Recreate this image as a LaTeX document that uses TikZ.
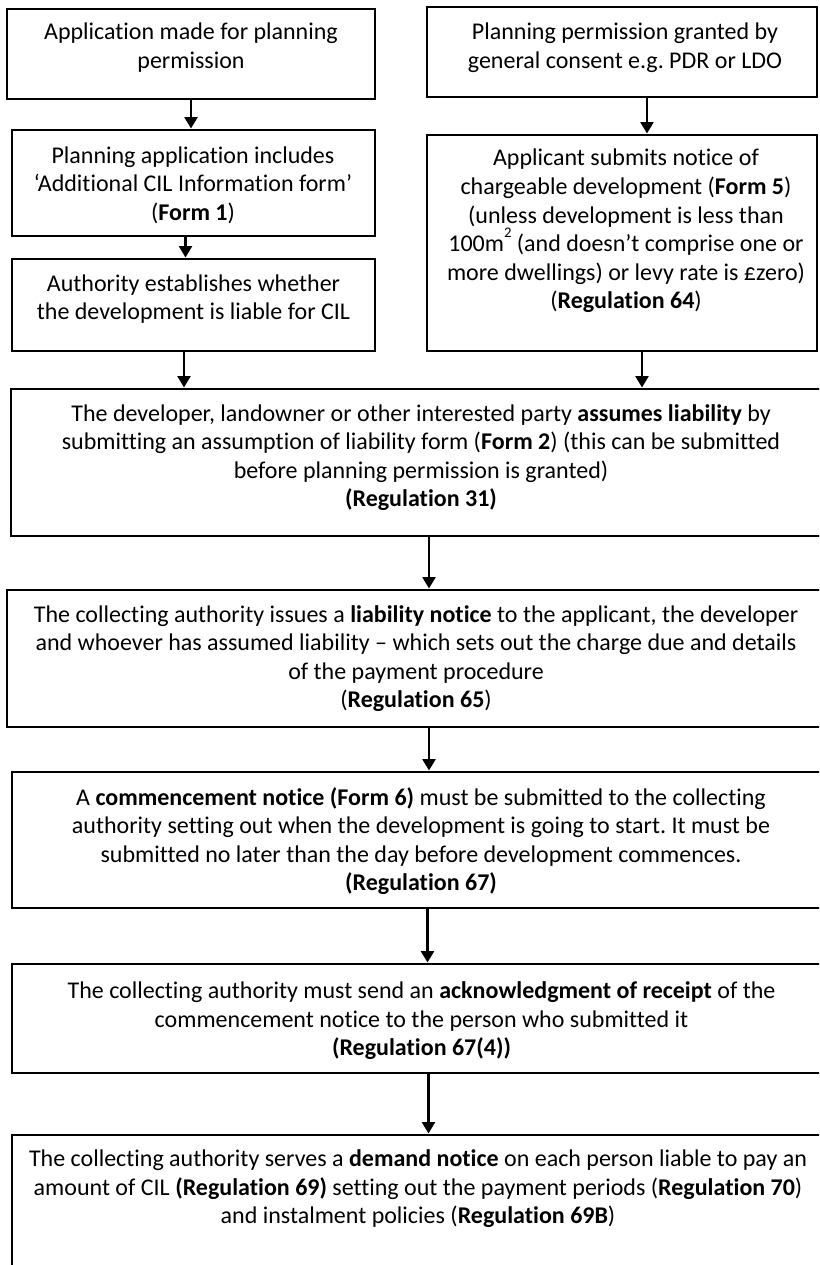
\documentclass[tikz,border=0pt]{standalone}
\usepackage{fontspec}
\setmainfont[RawFeature={-liga;-clig;-dlig;-calt}]{Carlito}
\usetikzlibrary{arrows.meta,fit,calc}
\frenchspacing
\tikzset{
  box/.style={draw, line width=2.2pt, rectangle, inner sep=0pt},
  txt/.style={font=\fontsize{18}{21.4}\selectfont\frenchspacing, align=center, inner sep=0pt},
  arr/.style={line width=2.1pt, -{Triangle[width=9.5pt,length=8.5pt]}}
}
\begin{document}
\begin{tikzpicture}[x=0.75pt,y=-0.75pt]
\useasboundingbox (0,0) rectangle (819,1265);
\fill[white] (0,0) rectangle (819,1265);
\clip (0,0) rectangle (819,1265);
% boxes
\node[box, fit={(7,9) (375,99)}] (A) {};
\node[box, fit={(12,130) (375,236)}] (B) {};
\node[box, fit={(12,259) (375,351)}] (C) {};
\node[box, fit={(427,7) (817,97)}] (E) {};
\node[box, fit={(427,135) (817,351)}] (F) {};
\node[box, fit={(11,389) (845,536)}] (D) {};
\node[box, fit={(7,590) (845,727)}] (G) {};
\node[box, fit={(12,772) (845,908)}] (H) {};
\node[box, fit={(12,964) (845,1073)}] (I) {};
\node[box, fit={(12,1135) (845,1330)}] (J) {};
% texts
\node[txt] (tA) at (191,47.5) {Application made for planning\\permission};
\node[txt] (tB) at (193,185) {Planning application includes\\‘Additional CIL Information form’\\(\textbf{Form 1})};
\node[txt] (tC) at (193.5,299) {Authority establishes whether\\the development is liable for CIL};
\node[txt] (tE) at (625,47.5) {Planning permission granted by\\general consent e.g. PDR or LDO};
\node[txt] (tF) at (626,231) {Applicant submits notice of\\chargeable development (\textbf{Form 5})\\(unless development is less than\\100m\raisebox{1.2ex}{\fontsize{11}{11}\selectfont 2} (and doesn’t comprise one or\\more dwellings) or levy rate is £zero)\\(\textbf{Regulation 64})};
\node[txt] (tD) at (421,457.5) {The developer, landowner or other interested party \textbf{assumes liability} by\\submitting an assumption of liability form (\textbf{Form 2}) (this can be submitted\\before planning permission is granted)\\\textbf{(Regulation 31)}};
\node[txt] (tG) at (416,658.5) {The collecting authority issues a \textbf{liability notice} to the applicant, the developer\\and whoever has assumed liability – which sets out the charge due and details\\of the payment procedure\\(\textbf{Regulation 65})};
\node[txt] (tH) at (421,841) {A \textbf{commencement notice (Form 6)} must be submitted to the collecting\\authority setting out when the development is going to start. It must be\\submitted no later than the day before development commences.\\\textbf{(Regulation 67)}};
\node[txt] (tI) at (421.5,1021) {The collecting authority must send an \textbf{acknowledgment of receipt} of the\\commencement notice to the person who submitted it\\\textbf{(Regulation 67(4))}};
\node[txt] (tJ) at (418,1189) {The collecting authority serves a \textbf{demand notice} on each person liable to pay an\\amount of CIL \textbf{(Regulation 69)} setting out the payment periods (\textbf{Regulation 70})\\and instalment policies (\textbf{Regulation 69B})};
% arrows
\draw[arr] (A.south) -- (A.south |- B.north);
\draw[arr] ($(B.south)+(-8,0)$) coordinate (b1) -- (b1 |- C.north);
\draw[arr] ($(C.south)+(-9.5,0)$) coordinate (c1) -- (c1 |- D.north);
\draw[arr] ($(E.south)+(25,0)$) coordinate (e1) -- (e1 |- F.north);
\draw[arr] ($(F.south)+(20,0)$) coordinate (f1) -- (f1 |- D.north);
\draw[arr] ($(D.south)+(1,0)$) coordinate (d1) -- (d1 |- G.north);
\draw[arr] ($(G.south)+(3,0)$) coordinate (g1) -- (g1 |- H.north);
\draw[arr] ($(H.south)+(-1,0)$) coordinate (h1) -- (h1 |- I.north);
\draw[arr] (I.south) -- (I.south |- J.north);
\end{tikzpicture}
\end{document}
